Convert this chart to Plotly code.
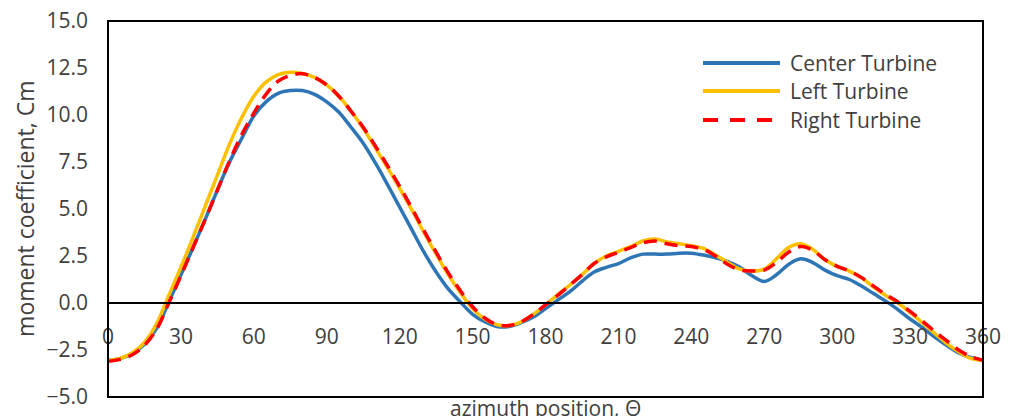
import plotly.graph_objects as go

theta = list(range(0, 361, 5))

center = [-3.05, -2.95, -2.7, -2.2, -1.35, 0.05, 1.5, 2.95, 4.45, 6.0, 7.5, 8.75, 9.95, 10.7, 11.15, 11.3,
          11.3, 11.1, 10.7, 10.15, 9.35, 8.5, 7.45, 6.3, 5.1, 3.9, 2.7, 1.65, 0.75, 0.05, -0.6, -1.0,
          -1.25, -1.25, -1.05, -0.75, -0.3, 0.15, 0.6, 1.15, 1.65, 1.9, 2.1, 2.4, 2.6, 2.6, 2.6, 2.65,
          2.65, 2.55, 2.4, 2.2, 1.9, 1.45, 1.15, 1.5, 2.05, 2.35, 2.15, 1.75, 1.45, 1.25, 0.9, 0.5,
          0.1, -0.35, -0.85, -1.3, -1.8, -2.25, -2.65, -2.9, -3.05]

left = [-3.05, -2.95, -2.65, -2.1, -1.1, 0.4, 1.9, 3.5, 5.15, 6.8, 8.45, 9.85, 11.0, 11.75, 12.15, 12.27,
        12.2, 12.0, 11.6, 11.0, 10.2, 9.3, 8.25, 7.2, 6.1, 4.95, 3.75, 2.6, 1.5, 0.55, -0.3, -0.85,
        -1.15, -1.2, -1.0, -0.6, -0.1, 0.45, 0.95, 1.5, 2.1, 2.5, 2.75, 3.0, 3.3, 3.4, 3.25, 3.15,
        3.05, 2.9, 2.55, 2.15, 1.8, 1.7, 1.8, 2.35, 2.95, 3.15, 2.85, 2.3, 1.95, 1.7, 1.35, 0.85,
        0.4, 0.0, -0.5, -1.05, -1.6, -2.15, -2.6, -2.95, -3.05]

right = [-3.1, -3.0, -2.75, -2.25, -1.4, 0.0, 1.45, 2.95, 4.45, 6.0, 7.55, 8.95, 10.1, 11.1, 11.8, 12.1,
         12.2, 12.0, 11.6, 11.0, 10.2, 9.35, 8.35, 7.3, 6.2, 5.05, 3.85, 2.7, 1.6, 0.65, -0.2, -0.8,
         -1.15, -1.2, -1.0, -0.6, -0.1, 0.4, 0.95, 1.5, 2.1, 2.45, 2.7, 2.95, 3.2, 3.3, 3.15, 3.05,
         3.0, 2.85, 2.5, 2.05, 1.75, 1.7, 1.75, 2.15, 2.7, 3.0, 2.8, 2.3, 1.95, 1.7, 1.35, 0.9,
         0.45, 0.05, -0.45, -0.95, -1.5, -2.0, -2.5, -2.85, -3.05]

names = ["Center Turbine", "Left Turbine", "Right Turbine"]
colors = ["#2E75B6", "#FFC000", "#FF0000"]
dashes = ["solid", "solid", "13px,8px"]
widths = [3.5, 3.5, 3.5]

x_ticks = list(range(0, 361, 30))
y_ticks = [-5.0, -2.5, 0.0, 2.5, 5.0, 7.5, 10.0, 12.5, 15.0]

FONT = "Open Sans"
TXT = "#404040"
FS = 21

fig = go.Figure()
for name, ys, c, d, w in zip(names, [center, left, right], colors, dashes, widths):
    fig.add_trace(go.Scatter(x=theta, y=ys, mode="lines", name=name,
                             line=dict(color=c, width=w, dash=d, shape="spline", smoothing=1.0),
                             showlegend=False))

fig.update_layout(
    width=1016, height=416,
    margin=dict(l=108, r=33, t=21, b=19, autoexpand=False),
    paper_bgcolor="white", plot_bgcolor="white",
    font=dict(family=FONT, size=FS, color=TXT),
    xaxis=dict(range=[0, 360], tickvals=x_ticks, ticktext=[str(v) for v in x_ticks],
               showgrid=False, zeroline=False, showline=True, linecolor="black", linewidth=2,
               anchor="free", position=0.25, ticks="", ticklabelstandoff=15, automargin=False,
               tickfont=dict(family=FONT, size=FS, color=TXT)),
    yaxis=dict(range=[-5, 15], tickvals=y_ticks, tickformat=".1f", automargin=False,
               showgrid=False, zeroline=False, showline=False, ticks="",
               ticklabelstandoff=19, tickfont=dict(family=FONT, size=FS, color=TXT)),
)

# plot-area border
fig.add_shape(type="rect", xref="paper", yref="paper", x0=0, y0=0, x1=1, y1=1,
              line=dict(color="black", width=2), layer="above")

# axis titles
fig.add_annotation(text="moment coefficient, Cm", xref="paper", yref="paper",
                   x=-0.095, y=0.5, textangle=-90, showarrow=False,
                   xanchor="center", yanchor="middle", font=dict(family=FONT, size=23, color=TXT))
fig.add_annotation(text="azimuth position, Θ", xref="paper", yref="paper",
                   x=0.5, y=-0.03, showarrow=False, xanchor="center", yanchor="middle",
                   font=dict(family=FONT, size=FS, color=TXT))

# legend
leg_y = [0.888, 0.814, 0.737]
for name, c, d, ly in zip(names, colors, dashes, leg_y):
    fig.add_shape(type="line", xref="paper", yref="paper", x0=0.68, x1=0.768, y0=ly, y1=ly,
                  line=dict(color=c, width=4, dash=("15px,12px" if d != "solid" else d)))
    fig.add_annotation(text=name, xref="paper", yref="paper", x=0.777, y=ly,
                       xanchor="left", yanchor="middle", showarrow=False,
                       font=dict(family=FONT, size=FS, color=TXT))

fig.write_html("out.html")
